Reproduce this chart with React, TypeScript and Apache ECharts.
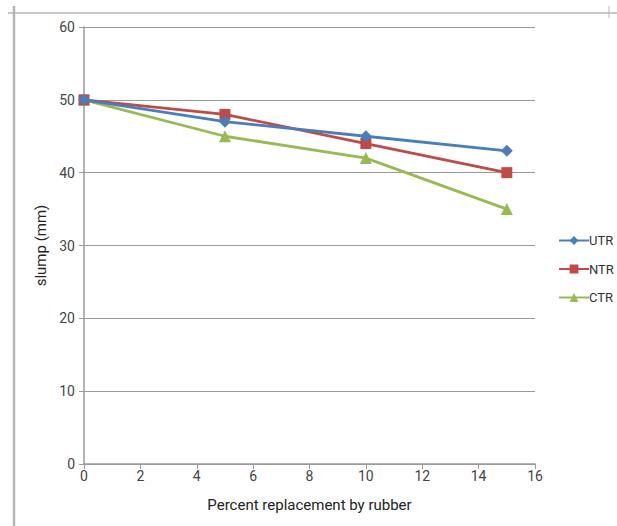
import React, { useEffect, useRef } from "react";
import * as echarts from "echarts";

const xValues = [0, 5, 10, 15];
const utr = [50, 47, 45, 43];
const ntr = [50, 48, 44, 40];
const ctr = [50, 45, 42, 35];
const seriesNames = ["UTR", "NTR", "CTR"];

export default function App() {
  const ref = useRef<HTMLDivElement>(null);
  useEffect(() => {
    const chart = echarts.init(ref.current!, null, { renderer: "svg" });
    const font = "Roboto, 'Noto Sans', sans-serif";
    const mk = (vals: number[]) => xValues.map((x, i) => [x, vals[i]]);
    const colors = ["#4a7ebb", "#be4b48", "#98b954"];
    const symbols = ["diamond", "rect", "triangle"];
    const sizes = [12, 11, 12];
    const data = [utr, ntr, ctr];
    chart.setOption({
      animation: false,
      backgroundColor: "#ffffff",
      textStyle: { fontFamily: font },
      grid: { left: 84, right: 82, top: 27, bottom: 62, containLabel: false },
      legend: {
        orient: "vertical",
        left: 558,
        top: 234,
        padding: 0,
        itemGap: 15.5,
        itemWidth: 30,
        itemHeight: 11,
        textStyle: { fontFamily: font, fontSize: 13, color: "#333", padding: [0, 0, 0, -5] },
        data: seriesNames,
      },
      xAxis: {
        type: "value",
        min: 0,
        max: 16,
        interval: 2,
        name: "Percent replacement by rubber",
        nameLocation: "middle",
        nameGap: 33,
        nameTextStyle: { fontFamily: font, fontSize: 15, color: "#222" },
        axisLine: { show: true, lineStyle: { color: "#9a9a9a", width: 1.5 } },
        axisTick: { show: true, length: 5, lineStyle: { color: "#9a9a9a" } },
        axisLabel: { fontFamily: font, fontSize: 14, color: "#444", margin: 5 },
        splitLine: { show: false },
      },
      yAxis: {
        type: "value",
        min: 0,
        max: 60,
        interval: 10,
        name: "slump (mm)",
        nameLocation: "middle",
        nameGap: 31,
        nameRotate: 90,
        nameTextStyle: { fontFamily: font, fontSize: 15, color: "#222" },
        axisLine: { show: true, lineStyle: { color: "#9a9a9a", width: 1.5 } },
        axisTick: { show: true, length: 5, lineStyle: { color: "#9a9a9a" } },
        axisLabel: { fontFamily: font, fontSize: 14, color: "#444", margin: 9 },
        splitLine: { show: true, lineStyle: { color: "#9a9a9a", width: 1.2 } },
      },
      graphic: [
        { type: "line", shape: { x1: 8, y1: 13, x2: 617, y2: 13 }, style: { stroke: "#b5b5b5", lineWidth: 1.5 } },
        { type: "line", shape: { x1: 14, y1: 6, x2: 14, y2: 526 }, style: { stroke: "#b5b5b5", lineWidth: 2.5 } },
        { type: "line", shape: { x1: 609, y1: 6, x2: 609, y2: 18 }, style: { stroke: "#b5b5b5", lineWidth: 1 } },
      ],
      series: seriesNames.map((name, i) => ({
        name,
        type: "line",
        data: mk(data[i]),
        symbol: symbols[i],
        symbolSize: sizes[i],
        itemStyle: { color: colors[i] },
        lineStyle: { color: colors[i], width: 2.8 },
        z: 3 - i,
      })),
    });
    return () => chart.dispose();
  }, []);
  return <div ref={ref} style={{ width: 617, height: 526, position: "absolute", left: 0, top: 0 }} />;
}
